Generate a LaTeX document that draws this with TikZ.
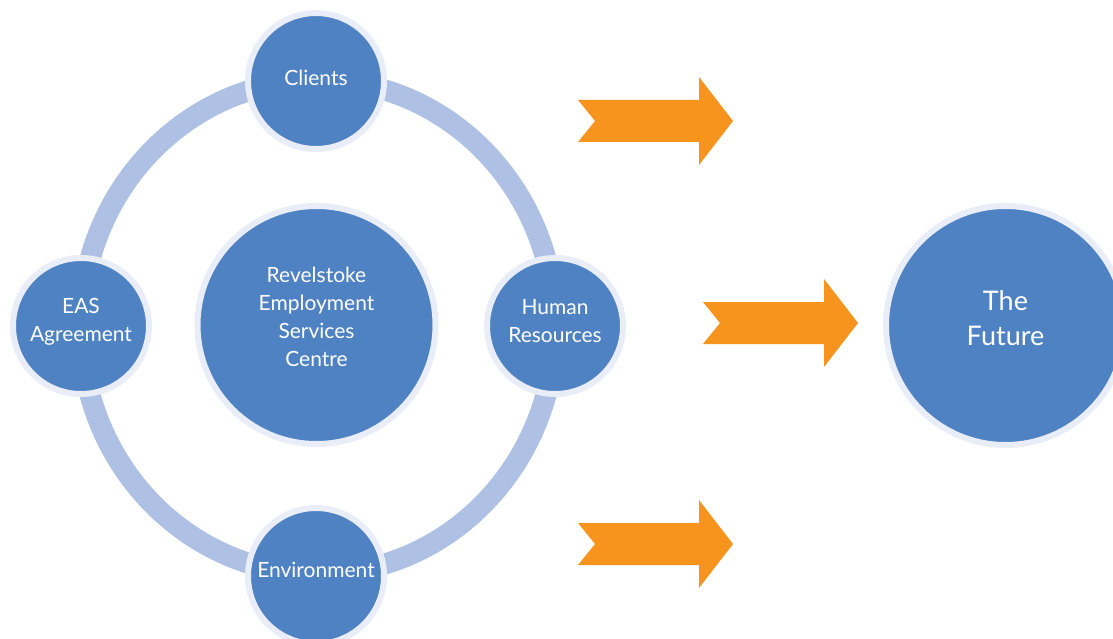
\documentclass[tikz,border=0pt]{standalone}
\usepackage{fontspec}
\setmainfont{Lato}
\definecolor{discblue}{HTML}{4F82C3}
\definecolor{discrim}{HTML}{E8EDF7}
\definecolor{ringblue}{HTML}{AEC1E4}
\definecolor{arroworange}{HTML}{F7941D}
\tikzset{
  disc/.style={circle, fill=discblue, draw=discrim, line width=6pt, inner sep=0pt},
  smalldisc/.style={disc, minimum size=136pt},
  bigdisc/.style={disc, minimum size=238pt},
  disctext/.style={text=white, align=center, inner sep=0pt,
    font=\fontsize{21}{28}\selectfont},
  bigtext/.style={disctext, font=\fontsize{27}{35}\selectfont},
  blockarrow/.pic={
    \fill[arroworange] (0,-21) -- (121,-21) -- (121,-44) -- (155,0) -- (121,44)
      -- (121,21) -- (0,21) -- (17,0) -- cycle;
  }
}
\begin{document}
\begin{tikzpicture}[x=1pt,y=-1pt]
  \useasboundingbox (0,0) rectangle (1113,639);
  \clip (0,0) rectangle (1113,639);
  \fill[white] (0,0) rectangle (1113,639);

  % ring joining the four surrounding discs
  \draw[ringblue, line width=21pt] (318,327) ellipse [x radius=237, y radius=247];

  % central disc
  \node[bigdisc, label={[disctext, yshift=8pt]center:Revelstoke\\Employment\\Services\\Centre}]
    (centre) at (316.5,325) {};

  % discs on the ring
  \node[smalldisc, label={[disctext, yshift=3pt]center:Clients}] (clients) at (316,81) {};
  \node[smalldisc, label={[disctext, yshift=5pt]center:Human\\Resources}] (hr) at (555,326) {};
  \node[smalldisc, label={[disctext, yshift=6pt]center:Environment}] (env) at (316,576) {};
  \node[smalldisc, label={[disctext, yshift=4pt]center:EAS\\Agreement}] (eas) at (81,326) {};

  % the outcome disc
  \node[bigdisc, minimum size=239pt, label={[bigtext, yshift=7pt]center:The\\Future}]
    (future) at (1005.5,325.5) {};

  % block arrows
  \pic at (578,121) {blockarrow};
  \pic at (703,323) {blockarrow};
  \pic at (578,544) {blockarrow};
\end{tikzpicture}
\end{document}
